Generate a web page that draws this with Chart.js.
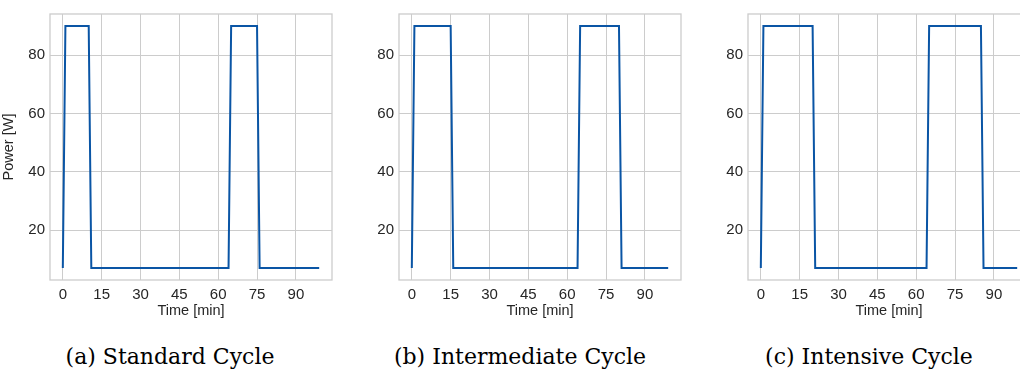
<!DOCTYPE html>
<html>
<head>
<meta charset="utf-8">
<script src="https://cdn.jsdelivr.net/npm/chart.js@4/dist/chart.umd.min.js"></script>
<style>
  html, body { margin: 0; padding: 0; background: #fff; overflow: hidden; }
  body { width: 1020px; height: 370px; position: relative; }
  .panel { position: absolute; top: 0; height: 330px; }
  .caption { position: absolute; top: 344px; line-height: 26px; font-family: "DejaVu Serif", "Liberation Serif", serif; font-size: 22px; color: #000; transform: translateX(-50%); white-space: nowrap; }
</style>
</head>
<body>
<div class="panel" style="left:0px;width:340px"><canvas id="c1"></canvas></div>
<div class="panel" style="left:340px;width:350px"><canvas id="c2"></canvas></div>
<div class="panel" style="left:690px;width:350px"><canvas id="c3"></canvas></div>
<div class="caption" style="left:170px">(a) Standard Cycle</div>
<div class="caption" style="left:520px">(b) Intermediate Cycle</div>
<div class="caption" style="left:869px">(c) Intensive Cycle</div>
<script>
// time [min] / power [W] breakpoints of each cycle
const timeStandard = [0, 1, 10, 11, 64, 65, 75, 76, 99];
const powerStandard = [7, 90, 90, 7, 7, 90, 90, 7, 7];
const timeIntermediate = [0, 1, 15, 16, 64, 65, 80, 81, 99];
const powerIntermediate = [7, 90, 90, 7, 7, 90, 90, 7, 7];
const timeIntensive = [0, 1, 20, 21, 64, 65, 85, 86, 99];
const powerIntensive = [7, 90, 90, 7, 7, 90, 90, 7, 7];

const xTicks = [0, 15, 30, 45, 60, 75, 90];
const yTicks = [20, 40, 60, 80];

const gridColor = "#cccccc";
const textColor = "#262626";
const lineColor = "#0a55a5";

// box around the plot area, like the matplotlib axes frame
const frame = {
  id: "frame",
  afterDraw(chart) {
    const { ctx, chartArea: a } = chart;
    ctx.save();
    ctx.strokeStyle = gridColor;
    ctx.lineWidth = 1.3;
    ctx.strokeRect(a.left, a.top, a.right - a.left, a.bottom - a.top);
    ctx.restore();
  },
};

function makeChart(id, times, power, yWidth, rightPad, showYTitle) {
  const points = times.map((t, i) => ({ x: t, y: power[i] }));
  return new Chart(document.getElementById(id), {
    type: "line",
    data: {
      datasets: [
        {
          data: points,
          borderColor: lineColor,
          borderWidth: 2,
          pointRadius: 0,
          tension: 0,
          fill: false,
        },
      ],
    },
    options: {
      responsive: true,
      maintainAspectRatio: false,
      animation: false,
      layout: { padding: { top: 5, right: rightPad, left: 0, bottom: 10 } },
      plugins: { legend: { display: false }, tooltip: { enabled: false } },
      scales: {
        x: {
          type: "linear",
          min: -4.95,
          max: 103.95,
          afterBuildTicks: (s) => { s.ticks = xTicks.map((v) => ({ value: v })); },
          afterFit: (s) => { s.height = 40; },
          grid: { color: gridColor, lineWidth: 1, drawTicks: false },
          border: { display: false },
          ticks: { color: textColor, padding: 6, maxRotation: 0, font: { family: "Liberation Sans, Arial", size: 15 } },
          title: { display: true, text: "Time [min]", color: textColor, padding: { top: 0, bottom: 0 }, font: { family: "Liberation Sans, Arial", size: 14.5 } },
        },
        y: {
          min: 2.85,
          max: 94.15,
          afterBuildTicks: (s) => { s.ticks = yTicks.map((v) => ({ value: v })); },
          afterFit: (s) => { s.width = yWidth; },
          grid: { color: gridColor, lineWidth: 1, drawTicks: false },
          border: { display: false },
          ticks: { color: textColor, padding: 5, font: { family: "Liberation Sans, Arial", size: 15 } },
          title: { display: showYTitle, text: "Power [W]", color: textColor, padding: { top: 0, bottom: 0 }, font: { family: "Liberation Sans, Arial", size: 14.5 } },
        },
      },
    },
    plugins: [frame],
  });
}

makeChart("c1", timeStandard, powerStandard, 50, 8, true);
makeChart("c2", timeIntermediate, powerIntermediate, 59, 9, false);
makeChart("c3", timeIntensive, powerIntensive, 58, 10, false);
</script>
</body>
</html>
